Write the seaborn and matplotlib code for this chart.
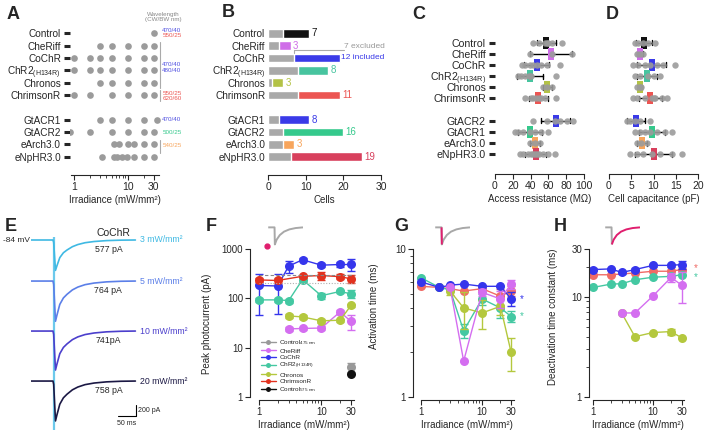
import numpy as np
import pandas as pd
import matplotlib
matplotlib.use('Agg')
import matplotlib.pyplot as plt
import matplotlib.ticker as mticker
from matplotlib.path import Path
from matplotlib.transforms import blended_transform_factory
import seaborn as sns

sns.set_style('ticks')
plt.rcParams['font.family'] = ['Liberation Sans', 'DejaVu Sans']
plt.rcParams['axes.linewidth'] = 0.8

# ---------------- data ----------------
CHR2 = 'ChR2$_{\\mathregular{(H134R)}}$'
names_ab = ['Control', 'CheRiff', 'CoChR', CHR2, 'Chronos', 'ChrimsonR',
            'GtACR1', 'GtACR2', 'eArch3.0', 'eNpHR3.0']
names_cd = ['Control', 'CheRiff', 'CoChR', CHR2, 'Chronos', 'ChrimsonR',
            'GtACR2', 'GtACR1', 'eArch3.0', 'eNpHR3.0']
row_colors = ['#111111', '#cf6ee8', '#3a3ae8', '#47c49f', '#b3c246', '#ec5552',
              '#3a3ae8', '#35c98c', '#f7a55c', '#d8405d']

# A: irradiances tested (mW/mm2)
irr_a = [
    [30],
    [3, 5, 10, 20, 30],
    [1, 2, 3, 5, 10, 20, 30],
    [1, 2, 3, 5, 10, 20, 30],
    [3, 5, 10, 20, 30],
    [1, 2, 5, 10, 20, 30],
    [3, 5, 10, 20, 35],
    [0.85, 2, 5, 10, 20, 30],
    [5.5, 7, 10, 13, 20, 30],
    [3.3, 5.5, 6.3, 7.7, 9.6, 13, 20, 30],
]

# B: cells
cells_excluded = [4, 3, 7, 8, 1, 8, 3, 4, 4, 6]
cells_included = [7, 3, 12, 8, 3, 11, 8, 16, 3, 19]

# C: access resistance (MOhm)
access = [
    [43, 49, 56, 58, 60, 64, 75],
    [39, 64, 86],
    [30, 34, 39, 43, 47, 52, 58, 73],
    [26, 29, 34, 38, 39, 40, 69],
    [54, 58, 64],
    [34, 40, 43, 46, 49, 52, 56, 69],
    [43, 58, 67, 73, 81, 88],
    [22, 26, 32, 39, 45, 52, 60],
    [39, 45, 51],
    [28, 32, 37, 40, 43, 45, 47, 49, 54, 60, 67],
]
# D: cell capacitance (pF)
capacitance = [
    [5.8, 6.6, 7.7, 8.8, 10.3],
    [6.2, 7.0, 7.7],
    [5.5, 6.6, 8.1, 9.2, 10.7, 12.2, 14.8],
    [5.8, 7.0, 8.7, 10.0, 11.5],
    [6.4, 7.0, 7.3],
    [5.5, 6.2, 8.1, 9.6, 10.0, 10.3, 11.8, 13.0],
    [4.0, 4.7, 5.8, 7.0, 9.2],
    [5.8, 7.0, 8.1, 9.2, 10.7, 12.6, 14.1],
    [6.2, 7.3, 8.5],
    [4.7, 6.2, 7.7, 9.6, 11.5, 14.1, 16.3],
]

# E: CoChR photocurrent traces
e_time = [0, 61, 63, 68, 72, 80, 90, 100, 115, 130, 150, 175, 210, 250, 290]
e_shape = [0, 0, -0.08, -1.0, -0.85, -0.58, -0.42, -0.33, -0.22, -0.15, -0.09,
           -0.05, -0.02, -0.005, 0]
e_peak = [577, 764, 741, 758]
e_peak_text = ['577 pA', '764 pA', '741pA', '758 pA']
e_power = ['3 mW/mm²', '5 mW/mm²', '10 mW/mm²', '20 mW/mm²']
e_colors = ['#3fb9e3', '#5b7fe8', '#4b3fcc', '#1b1844']

# F-H: irradiance series
irr7 = [1, 2, 3, 5, 10, 20, 30]
irr5 = [3, 5, 10, 20, 30]
irr_crim = [1, 2, 5, 10, 20, 30]

peak_cheriff = [24, 24.5, 25, 53, 34]
peak_cochr = [182, 178, 450, 605, 470, 485, 485]
peak_chr2 = [93, 93, 90, 240, 113, 138, 123]
peak_chronos = [44, 42, 35, 36, 72]
peak_chrimson = [236, 230, 280, 290, 275, 248]
peak_ctrl475 = [4.1]
peak_ctrl575 = [2.9]
err_cheriff = [2, 2, 2, 4, 11]
err_cochr = [135, 130, 120, 40, 40, 50, 130]
err_chr2 = [10, 10, 8, 30, 18, 12, 22]
err_chronos = [4, 3, 3, 3, 6]
err_chrimson = [25, 25, 20, 50, 30, 45]
err_ctrl475 = [0.9]
peak_refs = [300, 200]

act_chrimson = [5.6, 5.5, 5.4, 5.2, 5.4, 4.8, 5.2]
act_cochr = [6.0, 5.5, 5.7, 5.8, 5.6, 5.6, 4.6]
act_chr2 = [6.4, 5.5, 5.3, 2.8, 4.6, 4.0, 3.5]
act_chronos = [5.2, 4.0, 3.7, 4.1, 2.0]
act_cheriff = [5.5, 1.75, 5.1, 4.6, 5.8]
act_err_chrimson = [0, 0, 0, 0, 0.3, 0.6, 0.4]
act_err_cochr = [0, 0, 0, 0, 0, 0, 0.5]
act_err_chr2 = [0, 0, 0, 0.3, 0.4, 0.6, 0.3]
act_err_chronos = [0.3, 1.1, 0.8, 0.5, 0.5]
act_err_cheriff = [0, 0, 0.3, 0.6, 0.4]

deact_cochr = [18.7, 19, 17.5, 18.7, 20.6, 20.6, 21]
deact_chrimson = [16.6, 16.6, 17.3, 18, 18, 18.7]
deact_chr2 = [12.4, 13.4, 13.5, 14.8, 15.7, 16, 16.6]
deact_cheriff = [6.9, 6.9, 10.2, 15.6, 13.1]
deact_chronos = [6.9, 4.0, 4.4, 4.5, 3.9]
deact_err_cochr = [0.8, 0.5, 0.5, 0.5, 0.8, 0.8, 2.0]
deact_err_cheriff = [0, 0, 0, 1.5, 4.5]
deact_err_chronos = [0, 0, 0, 0.3, 0]

# inset icon trace (normalised)
icon_t = [0, 6, 6.3, 8, 11, 15, 20, 26, 33]
icon_i = [0, 0, -1, -0.72, -0.45, -0.25, -0.12, -0.04, 0]

C_CHERIFF, C_COCHR, C_CHR2 = '#d46ef0', '#3535ec', '#44c8a2'
C_CHRONOS, C_CHRIMSON, C_CHRIMSON_L = '#b4c83e', '#e2321f', '#f06b66'
MAGENTA = '#e01e6e'
GRAY = '#9b9b9b'

# ---------------- layout ----------------
W, H = 708, 441
fig = plt.figure(figsize=(W / 100, H / 100), dpi=100)


def px_box(x0, y0, x1, y1):
    return [x0 / W, 1 - y1 / H, (x1 - x0) / W, (y1 - y0) / H]


def letter(x, y, s):
    fig.text(x / W, 1 - y / H, s, fontsize=13, fontweight='bold', va='top', ha='left')


def long_df(names, values):
    return pd.DataFrame({'construct': [n for n, v in zip(names, values) for _ in v],
                         'val': [x for v in values for x in v]})


def color_ticks(ax, order, colors_by_name):
    for tick, name in zip(ax.yaxis.get_major_ticks(), order):
        if name.strip():
            tick.tick1line.set_color(colors_by_name[name])
        else:
            tick.tick1line.set_visible(False)


order_ab = names_ab[:6] + [' '] + names_ab[6:]
order_cd = names_cd[:6] + [' '] + names_cd[6:]
pal_ab = dict(zip(names_ab, row_colors))
pal_cd = dict(zip(names_cd, row_colors))

# ---------------- A ----------------
axA = fig.add_axes(px_box(70, 27, 160, 163))
sns.stripplot(data=long_df(names_ab, irr_a), x='val', y='construct', order=order_ab,
              jitter=False, color=GRAY, size=4.8, linewidth=0, ax=axA)
axA.set_xscale('log')
axA.set_xlim(0.85, 39.5)
axA.set_ylim(10.5, -0.5)
axA.set_xticks([1, 10, 30], ['1', '10', '30'])
axA.set_xticks([2, 3, 4, 5, 6, 7, 8, 9, 20], minor=True)
axA.xaxis.set_minor_formatter(mticker.NullFormatter())
axA.set_xlabel('Irradiance (mW/mm²)', fontsize=7, labelpad=2)
axA.set_ylabel('')
for s in ['left', 'top', 'right']:
    axA.spines[s].set_visible(False)
axA.spines['bottom'].set_position(('outward', 8.5))
axA.spines['bottom'].set_bounds(0.88, 38)
axA.tick_params(axis='y', length=4.5, width=2.2, pad=2, labelsize=7.2)
axA.tick_params(axis='x', which='major', length=3.5, width=0.8, labelsize=7.5, pad=1.5)
axA.tick_params(axis='x', which='minor', length=2, width=0.6)
color_ticks(axA, order_ab, pal_ab)

trA = blended_transform_factory(axA.transAxes, axA.transData)
fig.text(163 / W, 1 - 17 / H, 'Wavelength\n(CW/BW nm)', fontsize=4.5, color='#888888',
         ha='center', va='center', linespacing=0.9)
wl_text = [(-0.22, '470/40', '#5050e0'), (0.22, '550/25', '#ec5552'),
           (2.55, '470/40', '#5050e0'), (3.0, '480/40', '#5050e0'),
           (4.85, '550/25', '#ec5552'), (5.3, '620/60', '#ec5552'),
           (7.0, '470/40', '#5050e0'), (8.0, '500/25', '#35c98c'),
           (9.1, '540/25', '#f7a55c')]
for yv, s, c in wl_text:
    axA.text(1.025, yv, s, transform=trA, fontsize=4.5, color=c, va='center', ha='left')
for y0, y1 in [(0.7, 4.4), (4.6, 5.5), (8.6, 9.7)]:
    axA.plot([1.0, 1.0], [y0, y1], transform=trA, color='#aaaaaa', lw=0.8, clip_on=False)

# ---------------- B ----------------
axB = fig.add_axes(px_box(268, 27, 381, 163))
dfB = pd.DataFrame({'construct': names_ab, 'excluded': cells_excluded,
                    'included': cells_included})
dfB['total'] = dfB['excluded'] + dfB['included']
sns.barplot(data=dfB, x='total', y='construct', order=order_ab, hue='construct',
            palette=pal_ab, legend=False, width=0.7, errorbar=None, saturation=1, ax=axB)
sns.barplot(data=dfB, x='excluded', y='construct', order=order_ab, color='#a9a9a9',
            width=0.7, errorbar=None, saturation=1, ax=axB)
for name, tot, inc, c in zip(names_ab, dfB['total'], cells_included, row_colors):
    yv = order_ab.index(name)
    if name == 'CoChR':
        axB.text(tot + 0.3, yv, f'{inc} included', color=c, va='center', fontsize=6)
        axB.text(tot + 1.2, yv - 0.95, f'{cells_excluded[2]} excluded', color='#999999',
                 va='center', fontsize=6)
        axB.plot([cells_excluded[2], cells_excluded[2], tot + 1.2],
                 [yv - 0.36, yv - 0.62, yv - 0.62], color='#aaaaaa', lw=0.8, clip_on=False)
    else:
        axB.text(tot + 0.6, yv, str(inc), color=c, va='center', fontsize=7)
axB.set_xlim(0, 30)
axB.set_ylim(10.5, -0.5)
axB.set_xticks([0, 10, 20, 30])
axB.set_xlabel('Cells', fontsize=7, labelpad=2)
axB.set_ylabel('')
for s in ['left', 'top', 'right']:
    axB.spines[s].set_visible(False)
axB.spines['bottom'].set_position(('outward', 8.5))
axB.tick_params(axis='y', length=0, pad=2, labelsize=7.2)
axB.tick_params(axis='x', length=3.5, width=0.8, labelsize=7.5, pad=1.5)

# ---------------- C & D ----------------
rect = Path([(-1.25, -2.3), (1.25, -2.3), (1.25, 2.3), (-1.25, 2.3), (-1.25, -2.3)])


def dot_panel(ax, values, xlim, xticks, xlabel, labels):
    df = long_df(names_cd, values)
    sns.stripplot(data=df, x='val', y='construct', order=order_cd, jitter=False,
                  color=GRAY, size=4.6, linewidth=0, alpha=0.9, ax=ax)
    sns.pointplot(data=df, x='val', y='construct', order=order_cd, errorbar='sd',
                  color='black', capsize=0.45, marker='none', linestyle='none',
                  err_kws={'linewidth': 1}, ax=ax)
    sns.pointplot(data=df, x='val', y='construct', order=order_cd, hue='construct',
                  palette=pal_cd, errorbar=None, marker=rect, markersize=9,
                  markeredgewidth=0, linestyle='none', legend=False, ax=ax)
    ax.set_xlim(*xlim)
    ax.set_ylim(10.5, -0.5)
    ax.set_xticks(xticks)
    ax.set_xlabel(xlabel, fontsize=7, labelpad=2)
    ax.set_ylabel('')
    for s in ['left', 'top', 'right']:
        ax.spines[s].set_visible(False)
    ax.spines['bottom'].set_position(('outward', 10))
    ax.tick_params(axis='x', length=3.5, width=0.8, labelsize=7.5, pad=1.5)
    if labels:
        ax.tick_params(axis='y', length=4.5, width=2.2, pad=2, labelsize=7.6)
        color_ticks(ax, order_cd, pal_cd)
    else:
        ax.tick_params(axis='y', left=False, labelleft=False)


axC = fig.add_axes(px_box(495, 37, 584, 160))
dot_panel(axC, access, (0, 100), [0, 20, 40, 60, 80, 100], 'Access resistance (MΩ)', True)
axD = fig.add_axes(px_box(609, 37, 698, 160))
dot_panel(axD, capacitance, (0, 20), [0, 5, 10, 15, 20], 'Cell capacitance (pF)', False)

# ---------------- E ----------------
axE = fig.add_axes(px_box(31, 230, 139, 430))
axE.set_xlim(0, 300)
axE.set_ylim(-3610, 190)
axE.axis('off')
e_offsets = [0, -780, -1730, -2680]
axE.vlines(64, -3610, 60, color='#6cc9ec', lw=1.6)
for pk, off, c, pw, pt in zip(e_peak, e_offsets, e_colors, e_power, e_peak_text):
    sns.lineplot(x=e_time, y=np.array(e_shape) * pk + off, color=c, linewidth=1.2, ax=axE)
    axE.text(302, off, pw, color=c, fontsize=6.3, va='center', ha='left')
    axE.text(215, off - 175, pt, fontsize=6.3, va='center', ha='center')
axE.text(-2, 0, '-84 mV', fontsize=6, ha='right', va='center')
axE.text(230, 135, 'CoChR', fontsize=7.5, ha='center', va='center')
axE.plot([242, 292, 292], [-3335, -3335, -3135], color='black', lw=0.8)
axE.text(297, -3235, '200 pA', fontsize=5, va='center', ha='left')
axE.text(267, -3420, '50 ms', fontsize=5, va='top', ha='center')


# ---------------- F-H ----------------
def log_axis(ax, xlim, ylim, yticks, yminor, ylabel, ylab_xy, xlab_x):
    ax.set_xscale('log')
    ax.set_yscale('log')
    ax.set_xlim(*xlim)
    ax.set_ylim(*ylim)
    ax.set_xticks([1, 10, 30], ['1', '10', '30'])
    ax.set_xticks([2, 3, 4, 5, 6, 7, 8, 9, 20], minor=True)
    ax.xaxis.set_minor_formatter(mticker.NullFormatter())
    ax.set_yticks(yticks, [str(t) for t in yticks])
    ax.set_yticks(yminor, minor=True)
    ax.yaxis.set_minor_formatter(mticker.NullFormatter())
    sns.despine(ax=ax)
    ax.spines['bottom'].set_position(('outward', 2.5))
    ax.spines['bottom'].set_bounds(1, 33)
    ax.spines['left'].set_bounds(1, yticks[-1])
    ax.tick_params(which='major', length=3.5, width=0.8, labelsize=7, pad=1.5)
    ax.tick_params(which='minor', length=2, width=0.6)
    ax.set_xlabel('Irradiance (mW/mm²)', fontsize=7)
    ax.xaxis.set_label_coords(xlab_x, -0.15)
    ax.set_ylabel(ylabel, fontsize=7)
    ax.yaxis.set_label_coords(*ylab_xy)


def series(ax, x, y, err, color, label=None):
    sns.lineplot(x=x, y=y, color=color, marker='o', markersize=6.5, markeredgewidth=0,
                 linewidth=1, label=label, ax=ax)
    if err is not None:
        ax.errorbar(x, y, yerr=err, fmt='none', ecolor=color, elinewidth=1, capsize=3)


def icon(x0, gray_idx, mag_idx, dot=False):
    ax = fig.add_axes(px_box(x0, 226, x0 + 39, 247))
    ax.set_xlim(-4, 33)
    ax.set_ylim(-1.15, 0.08)
    ax.axis('off')
    gi = slice(*gray_idx)
    ax.plot(icon_t[gi], icon_i[gi], color='#a8a8a8', lw=1.4, solid_capstyle='butt')
    if mag_idx is not None:
        mi = slice(*mag_idx)
        ax.plot(icon_t[mi], icon_i[mi], color=MAGENTA, lw=1.4, solid_capstyle='butt')
    if dot:
        ax.plot([-1.5], [-1.1], 'o', color=MAGENTA, ms=3.5, clip_on=False)


# F
axF = fig.add_axes(px_box(250, 245, 356, 397))
series(axF, [30], peak_ctrl475, err_ctrl475, '#999999',
       'Control$_{\\mathregular{475\\ nm}}$')
series(axF, irr5, peak_cheriff, err_cheriff, C_CHERIFF, 'CheRiff')
series(axF, irr7, peak_cochr, err_cochr, C_COCHR, 'CoChR')
series(axF, irr7, peak_chr2, err_chr2, C_CHR2, CHR2)
series(axF, irr5, peak_chronos, err_chronos, C_CHRONOS, 'Chronos')
series(axF, irr_crim, peak_chrimson, err_chrimson, C_CHRIMSON, 'ChrimsonR')
series(axF, [30], peak_ctrl575, None, '#111111', 'Control$_{\\mathregular{575\\ nm}}$')
axF.hlines(peak_refs[0], 1, 33, color='#888888', lw=0.8, linestyles=(0, (3, 2)))
axF.hlines(peak_refs[1], 1, 33, color='#b0b0b0', lw=0.8, linestyles=(0, (1, 1.5)))
log_axis(axF, (0.72, 36), (1, 1205), [1, 10, 100, 1000], [], 'Peak photocurrent (pA)',
         (-0.36, 0.48), 0.51)
hF, lF = axF.get_legend_handles_labels()
axF.legend(hF, lF, loc='lower left', bbox_to_anchor=(0.1, 0.02), fontsize=4.6,
           frameon=False, handlelength=2.4, handletextpad=0.5, labelspacing=0.15,
           borderpad=0, borderaxespad=0, markerscale=0.55)
icon(264, (0, 9), None, dot=True)

# G
axG = fig.add_axes(px_box(413, 245, 516, 397))
series(axG, irr7, act_chrimson, act_err_chrimson, C_CHRIMSON_L)
series(axG, irr7, act_chr2, act_err_chr2, C_CHR2)
series(axG, irr5, act_chronos, act_err_chronos, C_CHRONOS)
series(axG, irr7, act_cochr, act_err_cochr, C_COCHR)
series(axG, irr5, act_cheriff, act_err_cheriff, C_CHERIFF)
log_axis(axG, (0.74, 36), (1, 10.65), [1, 10], [2, 3, 4, 5, 6, 7, 8, 9],
         'Activation time (ms)', (-0.33, 0.6), 0.52)
trG = blended_transform_factory(axG.transAxes, axG.transData)
axG.text(1.04, act_cochr[-1], '*', transform=trG, color=C_COCHR, fontsize=7, va='center')
axG.text(1.04, act_chr2[-1], '*', transform=trG, color=C_CHR2, fontsize=7, va='center')
icon(431, (0, 9), (1, 3))

# H
axH = fig.add_axes(px_box(589, 245, 690, 397))
series(axH, irr_crim, deact_chrimson, None, C_CHRIMSON_L)
series(axH, irr7, deact_chr2, None, C_CHR2)
series(axH, irr5, deact_chronos, deact_err_chronos, C_CHRONOS)
series(axH, irr5, deact_cheriff, deact_err_cheriff, C_CHERIFF)
series(axH, irr7, deact_cochr, deact_err_cochr, C_COCHR)
log_axis(axH, (0.858, 41.4), (1, 32.9), [1, 10, 30], [2, 3, 4, 5, 6, 7, 8, 9, 20],
         'Deactivation time constant (ms)', (-0.31, 0.53), 0.48)
trH = blended_transform_factory(axH.transAxes, axH.transData)
axH.text(1.04, 19.3, '*', transform=trH, color=C_CHRIMSON_L, fontsize=7, va='center')
axH.text(1.04, 15.8, '*', transform=trH, color=C_CHR2, fontsize=7, va='center')
icon(601, (0, 3), (2, 9))

for x, y, s in [(7, 6, 'A'), (222, 4, 'B'), (412, 6, 'C'), (606, 6, 'D'),
                (5, 218, 'E'), (206, 218, 'F'), (394, 218, 'G'), (554, 218, 'H')]:
    letter(x, y, s)

fig.savefig('out.png', dpi=100)
